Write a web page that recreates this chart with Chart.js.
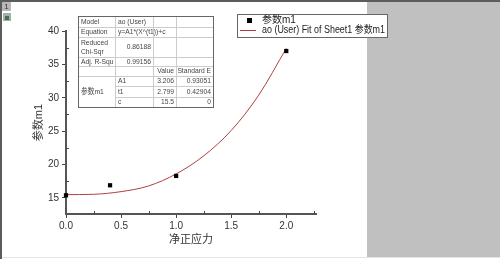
<!DOCTYPE html>
<html>
<head>
<meta charset="utf-8">
<script src="https://cdn.jsdelivr.net/npm/chart.js"></script>
<style>
  html, body { margin: 0; padding: 0; background: #fff; }
  #wrap { position: relative; width: 500px; height: 259px; }
</style>
</head>
<body>
<div id="wrap"><canvas id="fitPlot" width="500" height="259"></canvas></div>
<script>
// measured points (参数m1 vs 净正应力)
const stressX = [0, 0.4, 1.0, 2.0];
const paramY = [15.4, 16.9, 18.3, 37.0];

// fitted curve
const fitX = [0, 0.25, 0.5, 0.75, 1.0, 1.25, 1.5, 1.75, 2.0];
const fitY = [15.5, 15.55, 15.95, 16.8, 18.6, 21.3, 25.1, 30.4, 37.4];

// axis ticks
const xMajor = [0, 0.5, 1.0, 1.5, 2.0];
const xMinor = [0.25, 0.75, 1.25, 1.75, 2.25];
const yMinor = [17.5, 22.5, 27.5, 32.5, 37.5];

// fit result table
const tableRows = [
    ["Model", "ao (User)", "", ""],
    ["Equation", "y=A1*(X^(t1))+c", "", ""],
    ["Reduced\nChi-Sqr", "0.86188", "", ""],
    ["Adj. R-Squ", "0.99156", "", ""],
    ["", "", "Value", "Standard E"],
    ["参数m1", "A1", "3.206", "0.93051"],
    ["", "t1", "2.799", "0.42904"],
    ["", "c", "15.5", "0"]
];

const legendLabels = ["参数m1", "ao (User) Fit of Sheet1 参数m1"];

const FONT = "'Liberation Sans', Arial, 'Noto Sans CJK SC', sans-serif";
const FIT_COLOR = "#b04040";

// window frame and grey panel behind the graph page
const framePlugin = {
    id: "frame",
    beforeDraw(chart) {
        const c = chart.ctx;
        c.save();
        c.fillStyle = "#ffffff";
        c.fillRect(0, 0, 500, 259);
        c.fillStyle = "#c0c0c0";
        c.fillRect(367, 2, 133, 255);
        c.fillStyle = "#e4e4e4";
        c.fillRect(0, 257, 500, 1);
        c.fillStyle = "#5c5c5c";
        c.fillRect(0, 0, 500, 2);
        c.fillRect(0, 0, 2, 259);
        // page tab "1" and lock icon
        c.fillStyle = "#b8b8b8";
        c.fillRect(2, 2, 9, 9);
        c.fillStyle = "#333";
        c.font = "8px " + FONT;
        c.textAlign = "center";
        c.textBaseline = "middle";
        c.fillText("1", 6.5, 7);
        c.fillStyle = "#9fb0a4";
        c.fillRect(3, 13, 8, 8);
        c.fillStyle = "#4e6a58";
        c.fillRect(5, 16, 4, 4);
        c.restore();
    }
};

// narrow text like the original worksheet font
function narrowText(c, txt, x, y) {
    const w = c.measureText(txt).width;
    c.fillText(txt, x, y, w * 0.84);
}

// minor ticks, table and legend drawn on top of the plot
const overlayPlugin = {
    id: "overlay",
    afterDraw(chart) {
        const c = chart.ctx;
        const xs = chart.scales.x, ys = chart.scales.y;
        const area = chart.chartArea;
        c.save();

        // minor ticks point inward
        c.strokeStyle = "#444";
        c.lineWidth = 1;
        c.beginPath();
        xMinor.forEach(v => {
            const px = Math.round(xs.getPixelForValue(v)) + 0.5;
            c.moveTo(px, area.bottom);
            c.lineTo(px, area.bottom - 3);
        });
        yMinor.forEach(v => {
            const py = Math.round(ys.getPixelForValue(v)) + 0.5;
            c.moveTo(area.left, py);
            c.lineTo(area.left + 3, py);
        });
        c.stroke();

        // table
        const colX = [78, 115, 153, 176, 213];
        const rowY = [16, 27, 37, 57, 66, 76, 86, 97, 107];
        c.fillStyle = "#fff";
        c.fillRect(colX[0], rowY[0], colX[4] - colX[0], rowY[8] - rowY[0]);
        c.strokeStyle = "#cccccc";
        c.beginPath();
        for (let i = 1; i < rowY.length - 1; i++) {
            const startX = (i === 6 || i === 7) ? colX[1] : colX[0];
            c.moveTo(startX, rowY[i] + 0.5);
            c.lineTo(colX[4], rowY[i] + 0.5);
        }
        for (let j = 1; j < colX.length - 1; j++) {
            c.moveTo(colX[j] + 0.5, rowY[0]);
            c.lineTo(colX[j] + 0.5, rowY[8]);
        }
        c.stroke();
        c.strokeStyle = "#666";
        c.strokeRect(colX[0] + 0.5, rowY[0] + 0.5, colX[4] - colX[0], rowY[8] - rowY[0]);

        c.font = "8px " + FONT;
        c.fillStyle = "#444";
        c.textBaseline = "middle";
        tableRows.forEach((row, r) => {
            row.forEach((txt, k) => {
                if (!txt) return;
                let cy = (rowY[r] + rowY[r + 1]) / 2;
                if (k === 0 && r === 5) cy = (rowY[5] + rowY[8]) / 2;
                const numeric = /^[0-9.]+$/.test(txt) || txt === "Value" || txt === "Standard E";
                const lines = txt.split("\n");
                lines.forEach((ln, li) => {
                    const ly = cy + (li - (lines.length - 1) / 2) * 9;
                    if (numeric) {
                        c.textAlign = "right";
                        narrowText(c, ln, colX[k + 1] - 2, ly);
                    } else {
                        c.textAlign = "left";
                        narrowText(c, ln, colX[k] + 3, ly);
                    }
                });
            });
        });

        // legend box
        c.fillStyle = "#fff";
        c.fillRect(237, 14, 150, 23);
        c.strokeStyle = "#666";
        c.strokeRect(237.5, 14.5, 150, 23);
        c.fillStyle = "#000";
        c.fillRect(247, 18, 5, 5);
        c.strokeStyle = FIT_COLOR;
        c.beginPath();
        c.moveTo(240, 30.5);
        c.lineTo(256, 30.5);
        c.stroke();
        c.fillStyle = "#222";
        c.font = "10px " + FONT;
        c.textAlign = "left";
        c.textBaseline = "middle";
        c.fillText(legendLabels[0], 262, 20.5, 122);
        c.fillText(legendLabels[1], 262, 30.5, 123);

        c.restore();
    }
};

const ctx = document.getElementById("fitPlot").getContext("2d");

new Chart(ctx, {
    type: "scatter",
    data: {
        datasets: [
            {
                label: legendLabels[1],
                type: "line",
                data: fitX.map((x, i) => ({ x: x, y: fitY[i] })),
                borderColor: FIT_COLOR,
                borderWidth: 1,
                pointRadius: 0,
                fill: false,
                cubicInterpolationMode: "monotone",
                clip: false,
                order: 2
            },
            {
                label: legendLabels[0],
                data: stressX.map((x, i) => ({ x: x, y: paramY[i] })),
                pointStyle: "rect",
                pointRadius: 3,
                backgroundColor: "#000",
                borderColor: "#000",
                borderWidth: 0,
                clip: false,
                order: 1
            }
        ]
    },
    options: {
        responsive: false,
        devicePixelRatio: 1,
        animation: false,
        layout: { padding: { top: 31, right: 184, bottom: 0, left: 0 } },
        plugins: {
            legend: { display: false },
            tooltip: { enabled: false }
        },
        scales: {
            x: {
                type: "linear",
                min: 0,
                max: 2.27,
                afterFit(scale) { scale.height = 45; },
                afterBuildTicks(scale) { scale.ticks = xMajor.map(v => ({ value: v })); },
                ticks: {
                    callback: v => v.toFixed(1),
                    font: { family: FONT, size: 10 },
                    color: "#333",
                    padding: 2,
                    maxRotation: 0
                },
                grid: { drawOnChartArea: false, drawTicks: true, tickLength: 4, color: "#444" },
                border: { color: "#555", width: 2 },
                title: {
                    display: true,
                    text: "净正应力",
                    font: { family: FONT, size: 11 },
                    color: "#333",
                    padding: { top: 0, bottom: 12 }
                }
            },
            y: {
                min: 12.6,
                max: 40,
                afterFit(scale) { scale.width = 66; },
                ticks: {
                    stepSize: 5,
                    includeBounds: false,
                    font: { family: FONT, size: 10 },
                    color: "#333",
                    padding: 3
                },
                grid: { drawOnChartArea: false, drawTicks: true, tickLength: 4, color: "#444" },
                border: { color: "#555", width: 2 },
                title: {
                    display: true,
                    text: "参数m1",
                    font: { family: FONT, size: 11 },
                    color: "#333",
                    padding: { top: 32, bottom: 0 }
                }
            }
        }
    },
    plugins: [framePlugin, overlayPlugin]
});
</script>
</body>
</html>
